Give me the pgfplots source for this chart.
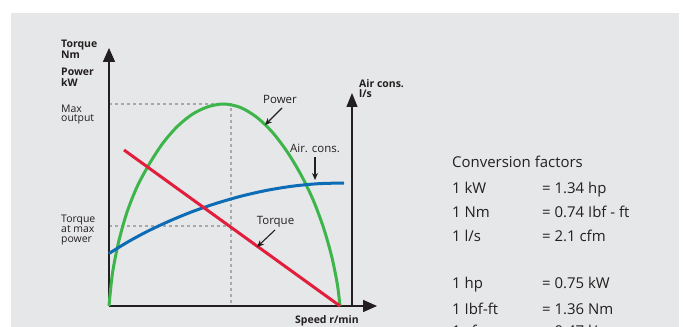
\documentclass[border=0pt]{standalone}
\usepackage{fontspec}
\setmainfont{Open Sans}
\usepackage{pgfplots}
\pgfplotsset{compat=1.18}
\usetikzlibrary{arrows.meta}
\definecolor{bg}{HTML}{E6E7E8}
\definecolor{ink}{HTML}{231F20}
\definecolor{pgreen}{HTML}{3DB54A}
\definecolor{pred}{HTML}{E31D3C}
\definecolor{pblue}{HTML}{0D6CB6}
\definecolor{dashgray}{HTML}{A7A9AC}
\begin{document}
\begin{tikzpicture}
\begin{axis}[scale only axis, width=683bp, height=327bp,
  xmin=-109, xmax=574, ymin=-21, ymax=306, hide axis, clip=false]
% background panel
\fill[bg] (axis cs:-98,293) rectangle (axis cs:570,-40);
% dashed guides
\draw[dashgray, line width=1.3bp, dash pattern=on 3bp off 3bp] (axis cs:0,202) -- (axis cs:122,202) -- (axis cs:122,0);
\draw[dashgray, line width=1.3bp, dash pattern=on 3bp off 3bp] (axis cs:0,80) -- (axis cs:122,80);
% axes
\draw[ink, line width=1.6bp, -{Triangle[width=12bp,length=14bp]}] (axis cs:0,0) -- (axis cs:0,258);
\draw[ink, line width=1.6bp, -{Triangle[width=12bp,length=14bp]}] (axis cs:0,0) -- (axis cs:268,0);
\draw[ink, line width=1.4bp, -{Triangle[width=11bp,length=14bp]}] (axis cs:243,0) -- (axis cs:243,213);
% curves
\addplot[pgreen, line width=3bp, smooth, tension=0.5] coordinates {
(0,0) (3.5,32.9) (9.6,64) (17.9,93.5) (28.2,119.5) (40.3,142) (53.6,162.5) (68.1,179.3) (83.4,191.8) (99.1,199.3) (115,202)
(131.5,198.5) (147.8,188.7) (163.6,173.5) (178.4,153.9) (192.1,131) (204.3,105.7) (214.6,78) (222.7,49.5) (228.3,22) (231,0)};
\addplot[pblue, line width=3bp, smooth, tension=0.5] coordinates {
(0,52.5) (18.9,64.1) (39.3,75.1) (61.2,85.3) (84.2,94.7) (108.1,102.9) (132.8,110.0) (158.1,115.7) (183.7,119.85) (209.4,122.3) (235,123)};
\addplot[pred, line width=3bp] coordinates {(15,156) (231,0)};
% left labels
\begin{scope}[every node/.style={ink, inner sep=0pt, anchor=base west}]
\node[font=\fontsize{10.5}{11}\selectfont\bfseries] at (axis cs:-48,258) {Torque};
\node[font=\fontsize{10.5}{11}\selectfont\bfseries] at (axis cs:-48,247) {Nm};
\node[font=\fontsize{10.5}{11}\selectfont\bfseries] at (axis cs:-48,230) {Power};
\node[font=\fontsize{10.5}{11}\selectfont\bfseries] at (axis cs:-48,219) {kW};
\node[font=\fontsize{10.5}{11}\selectfont] at (axis cs:-48,193) {Max};
\node[font=\fontsize{10.5}{11}\selectfont] at (axis cs:-48,184) {output};
\node[font=\fontsize{10.5}{11}\selectfont] at (axis cs:-48,83) {Torque};
\node[font=\fontsize{10.5}{11}\selectfont] at (axis cs:-48,73) {at max};
\node[font=\fontsize{10.5}{11}\selectfont] at (axis cs:-48,63) {power};
\node[font=\fontsize{10.5}{11}\selectfont\bfseries] at (axis cs:250,218) {Air cons.};
\node[font=\fontsize{10.5}{11}\selectfont\bfseries] at (axis cs:250,208) {l/s};
\node[font=\fontsize{10.5}{11}\selectfont\bfseries] at (axis cs:186,-17) {Speed r/min};
\end{scope}
% curve labels
\begin{scope}[every node/.style={ink, inner sep=0pt, anchor=base, font=\fontsize{11.5}{12}\selectfont}]
\node at (axis cs:171,202) {Power};
\node at (axis cs:206,153) {Air. cons.};
\node at (axis cs:166.5,81) {Torque};
\end{scope}
\draw[ink, line width=1.1bp, -{Stealth[width=6bp,length=7bp]}] (axis cs:173,198) -- (axis cs:156,181);
\draw[ink, line width=1.1bp, -{Stealth[width=6bp,length=7bp]}] (axis cs:206,149) -- (axis cs:206,126);
\draw[ink, line width=1.1bp, -{Stealth[width=6bp,length=7bp]}] (axis cs:166,76) -- (axis cs:148,59);
% conversion factors
\begin{scope}[every node/.style={ink, inner sep=0pt, anchor=base west, font=\fontsize{15}{17}\selectfont}]
\node at (axis cs:343,138) {Conversion factors};
\node at (axis cs:343,112.7) {1 kW};   \node at (axis cs:433,112.7) {= 1.34 hp};
\node at (axis cs:343,88.7) {1 Nm};    \node at (axis cs:433,88.7) {= 0.74 Ibf - ft};
\node at (axis cs:343,64.3) {1 l/s};   \node at (axis cs:433,64.3) {= 2.1 cfm};
\node at (axis cs:343,17) {1 hp};    \node at (axis cs:433,17) {= 0.75 kW};
\node at (axis cs:343,-8) {1 Ibf-ft}; \node at (axis cs:433,-8) {= 1.36 Nm};
\node at (axis cs:343,-30) {1 cfm};  \node at (axis cs:433,-30) {= 0.47 l/s};
\end{scope}
\end{axis}
\pgfresetboundingbox
\useasboundingbox (current axis.south west) rectangle (current axis.north east);
\end{tikzpicture}
\end{document}
